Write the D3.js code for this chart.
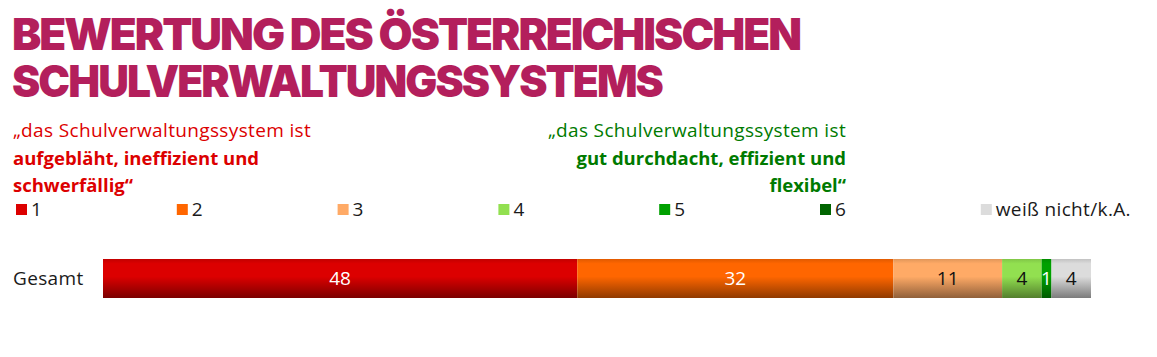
<!DOCTYPE html>
<html><head><meta charset="utf-8">
<script src="https://cdn.jsdelivr.net/npm/d3@7"></script>
<style>body{margin:0;background:#fff}</style>
</head><body>
<svg id="c" width="1157" height="357"></svg>
<script>
const categories = ["Gesamt"];
const seriesNames = ["1","2","3","4","5","6","weiß nicht/k.A."];
const seriesColors = ["#dc0000","#ff6600","#ffaa66","#92e050","#00a000","#006400","#dcdcdc"];
const values = [[48,32,11,4,1,0,4]];
const labelColors = ["#fff","#fff","#111","#111","#fff","#fff","#111"];
const titleLines = ["BEWERTUNG DES ÖSTERREICHISCHEN","SCHULVERWALTUNGSSYSTEMS"];
const leftNote = [["„das Schulverwaltungssystem ist",400],["aufgebläht, ineffizient und",700],["schwerfällig“",700]];
const rightNote = [["„das Schulverwaltungssystem ist",400],["gut durchdacht, effizient und",700],["flexibel“",700]];

const svg = d3.select("#c");
const font = "'Open Sans', Lato, sans-serif";
const fs = 19;
const ls = 0.35;

// gradients
const defs = svg.append("defs");
seriesColors.forEach((c,i)=>{
  const g = defs.append("linearGradient").attr("id","g"+i).attr("x1",0).attr("x2",0).attr("y1",0).attr("y2",1);
  const base = d3.color(c);
  g.append("stop").attr("offset","0%").attr("stop-color",base.darker(0.35));
  g.append("stop").attr("offset","12%").attr("stop-color",c);
  g.append("stop").attr("offset","45%").attr("stop-color",c);
  g.append("stop").attr("offset","100%").attr("stop-color",base.darker(1.6));
});

// title (one text element, two lines)
svg.append("text")
  .attr("font-family","Inter, Roboto, sans-serif").attr("font-weight",900)
  .attr("font-size",44).attr("fill","#b31f5c").attr("letter-spacing",-2)
  .selectAll("tspan").data(titleLines).join("tspan")
  .attr("x",12).attr("y",(d,i)=>50+i*47)
  .attr("textLength",(d,i)=>i===0?788:650).attr("lengthAdjust","spacingAndGlyphs")
  .text(d=>d);

// notes
function note(data, xp, anchor, color){
  svg.append("g").selectAll("text").data(data).join("text")
    .attr("x",xp).attr("y",(d,i)=>137+i*27.5).attr("text-anchor",anchor)
    .attr("font-family",font).attr("font-size",d=>d[1]===700?18.5:fs).attr("font-weight",d=>d[1])
    .attr("letter-spacing",d=>d[1]===700?0:ls)
    .attr("fill",color).text(d=>d[0]);
}
note(leftNote,13,"start","#dc0000");
note(rightNote,846,"end","#007a00");

// legend
const lg = svg.append("g").selectAll("g").data(seriesNames).join("g")
  .attr("transform",(d,i)=>`translate(${16+i*160.8},204)`);
lg.append("rect").attr("width",11).attr("height",11).attr("fill",(d,i)=>seriesColors[i]);
lg.append("text").attr("x",15).attr("y",11.5).attr("font-family",font).attr("font-size",fs)
  .attr("letter-spacing",ls).attr("fill","#1a1a1a").text(d=>d);

// bars
const x = d3.scaleLinear().domain([0,100]).range([103,1091]);
const y = d3.scaleBand().domain(categories).range([259,298]).padding(0);
const rows = categories.map((c,ci)=>{
  let acc=0;
  return values[ci].map((v,i)=>{const s={cat:c,i,v,x0:acc,x1:acc+v};acc+=v;return s;});
});
const bg = svg.append("g");
rows.forEach(row=>{
  bg.selectAll(null).data(row.filter(d=>d.v>0)).join("rect")
    .attr("x",d=>x(d.x0)).attr("width",d=>x(d.x1)-x(d.x0))
    .attr("y",d=>y(d.cat)).attr("height",y.bandwidth())
    .attr("fill",d=>`url(#g${d.i})`);
  bg.selectAll(null).data(row.filter(d=>d.v>0)).join("text")
    .attr("x",d=>(x(d.x0)+x(d.x1))/2).attr("y",d=>y(d.cat)+y.bandwidth()/2+6.5)
    .attr("text-anchor","middle").attr("font-family",font).attr("font-size",fs)
    .attr("fill",d=>labelColors[d.i]).text(d=>d.v);
});
svg.append("g").selectAll("text").data(categories).join("text")
  .attr("x",13).attr("y",d=>y(d)+y.bandwidth()/2+6.5)
  .attr("font-family",font).attr("font-size",fs).attr("letter-spacing",ls)
  .attr("fill","#1a1a1a").text(d=>d);
</script>
</body></html>
